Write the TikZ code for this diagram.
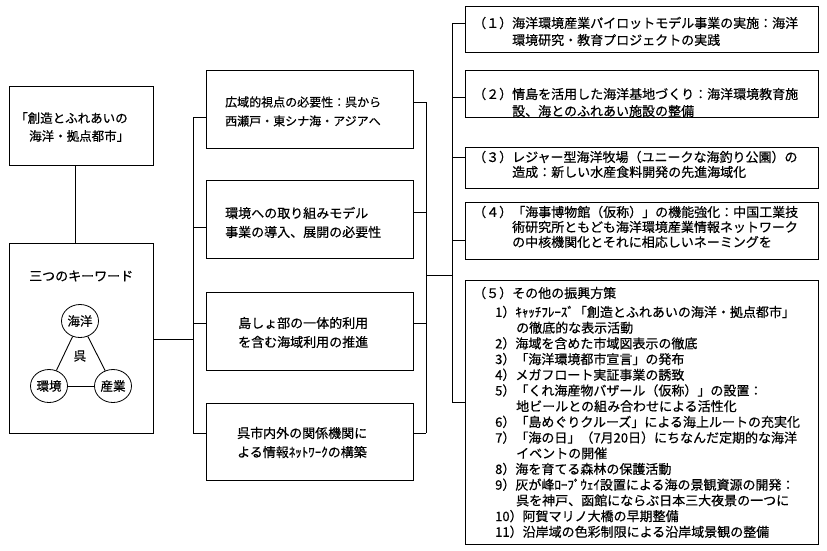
\documentclass[tikz,border=0pt]{standalone}
\usepackage{fontspec}
\setmainfont{Noto Sans CJK JP}[FakeBold=0.5]
\usetikzlibrary{shapes.geometric}
\newcommand\mylines[6][]{%
  \foreach \lineT [count=\i from 0] in {#6}{%
    \node[txt,#1] (#2\i) at ({#3},{#4+\i*#5}) {\lineT};}}
\begin{document}
\begin{tikzpicture}[x=1pt,y=-1pt,
  box/.style={draw, line width=0.9pt, rectangle, inner sep=0pt, anchor=north west},
  conn/.style={line width=0.9pt},
  kw/.style={draw, ellipse, line width=0.8pt, minimum width=37pt, minimum height=33pt, inner sep=0pt, font=\fontsize{12.5}{14}\selectfont},
  txt/.style={anchor=west, inner sep=0pt, font=\fontsize{13}{16}\selectfont},
  small/.style={font=\fontsize{12.5}{15}\selectfont},
  narrow/.style={font=\fontsize{12}{15}\selectfont}]
\fill[white] (0,0) rectangle (827,550);
\useasboundingbox (0,0) rectangle (827,550);

% left column
\node[box, minimum width=144pt, minimum height=79pt] (A) at (9,86) {};
\node[box, minimum width=144pt, minimum height=190pt] (B) at (9,243) {};
\node[txt, small] (a1) at (15,118) {「創造とふれあいの};
\node[txt, small] (a2) at (29,136) {海洋・拠点都市」};
\node[txt] (b1) at (29,276) {三つのキーワード};
\node[kw] (kai) at (80,321) {海洋};
\node[kw] (kan) at (49,386) {環境};
\node[kw] (san) at (113,386) {産業};
\node[inner sep=0pt, small] (kure) at (80,356) {呉};
\draw[conn] (kai) -- (kan);
\draw[conn] (kan) -- (san);
\draw[conn] (san) -- (kai);
\draw[conn] ([xshift=-6pt]A.south) -- ([xshift=-6pt]B.north);

% middle column
\node[box, minimum width=207pt, minimum height=78pt] (M1) at (206,70) {};
\node[box, minimum width=207pt, minimum height=78pt] (M2) at (206,180) {};
\node[box, minimum width=207pt, minimum height=78pt] (M3) at (206,292) {};
\node[box, minimum width=207pt, minimum height=77pt] (M4) at (206,403) {};
\mylines[narrow]{m1t}{225}{102}{19}{広域的視点の必要性：呉から,西瀬戸・東シナ海・アジアへ}
\mylines{m2t}{225}{213}{19}{環境への取り組みモデル,事業の導入、展開の必要性}
\mylines{m3t}{238}{323}{19}{島しょ部の一体的利用,を含む海域利用の推進}
\mylines{m4t}{237}{433}{19}{呉市内外の関係機関に,よる情報ﾈｯﾄﾜｰｸの構築}

% right column
\node[box, minimum width=353pt, minimum height=46pt] (R1) at (465,6) {};
\node[box, minimum width=353pt, minimum height=47pt] (R2) at (465,70) {};
\node[box, minimum width=353pt, minimum height=41pt] (R3) at (465,147) {};
\node[box, minimum width=353pt, minimum height=57pt] (R4) at (465,202) {};
\node[box, minimum width=353pt, minimum height=264pt] (R5) at (465,280) {};

\node[txt] (r1a) at (473,23) {（１）海洋環境産業パイロットモデル事業の実施：海洋};
\node[txt] (r1b) at (512,40) {環境研究・教育プロジェクトの実践};
\node[txt] (r2a) at (473,94) {（２）情島を活用した海洋基地づくり：海洋環境教育施};
\node[txt] (r2b) at (512,111) {設、海とのふれあい施設の整備};
\node[txt] (r3a) at (473,157) {（３）レジャー型海洋牧場（ユニークな海釣り公園）の};
\node[txt] (r3b) at (512,172) {造成：新しい水産食料開発の先進海域化};
\node[txt] (r4a) at (473,212) {（４）「海事博物館（仮称）」の機能強化：中国工業技};
\mylines{r4t}{512}{227}{15}{術研究所ともども海洋環境産業情報ネットワーク,の中核機関化とそれに相応しいネーミングを}

\node[txt] (r5h) at (473,293) {（５）その他の振興方策};
\node[txt] (s1) at (495,312) {1）ｷｬｯﾁﾌﾚｰｽﾞ「創造とふれあいの海洋・拠点都市」};
\node[txt] (s1b) at (516,327.7) {の徹底的な表示活動};
\node[txt] (s2) at (495,343.4) {2）海域を含めた市域図表示の徹底};
\node[txt] (s3) at (495,359.1) {3）「海洋環境都市宣言」の発布};
\node[txt] (s4) at (495,374.8) {4）メガフロート実証事業の誘致};
\node[txt] (s5) at (495,390.5) {5）「くれ海産物バザール（仮称）」の設置：};
\node[txt] (s5b) at (516,406.2) {地ビールとの組み合わせによる活性化};
\node[txt] (s6) at (495,421.9) {6）「島めぐりクルーズ」による海上ルートの充実化};
\node[txt] (s7) at (495,437.6) {7）「海の日」（7月20日）にちなんだ定期的な海洋};
\node[txt] (s7b) at (516,453.3) {イベントの開催};
\node[txt] (s8) at (495,469) {8）海を育てる森林の保護活動};
\node[txt] (s9) at (495,484.7) {9）灰が峰ﾛｰﾌﾟｳｪｲ設置による海の景観資源の開発：};
\node[txt] (s9b) at (516,500.4) {呉を神戸、函館にならぶ日本三大夜景の一つに};
\node[txt] (s10) at (495,516.1) {10）阿賀マリノ大橋の早期整備};
\node[txt] (s11) at (495,531.8) {11）沿岸域の色彩制限による沿岸域景観の整備};

% connectors: left bus
\coordinate (LB) at (193,339);
\coordinate (L1) at (193,117);
\coordinate (L2) at (193,227);
\coordinate (L3) at (193,323);
\coordinate (L4) at (193,433);
\draw[conn] (B.east |- LB) -- (LB);
\draw[conn] (L1) -- (L4);
\draw[conn] (L1) -- (M1.west |- L1);
\draw[conn] (L2) -- (M2.west |- L2);
\draw[conn] (L3) -- (M3.west |- L3);
\draw[conn] (L4) -- (M4.west |- L4);

% connectors: right bus
\coordinate (P1) at (426,102);
\coordinate (P2) at (426,212);
\coordinate (P3) at (426,323);
\coordinate (P4) at (426,433);
\coordinate (PH) at (426,275);
\draw[conn] (M1.east |- P1) -- (P1);
\draw[conn] (M2.east |- P2) -- (P2);
\draw[conn] (M3.east |- P3) -- (P3);
\draw[conn] (M4.east |- P4) -- (P4);
\draw[conn] (P1) -- (P4);

% connectors: R bus
\coordinate (Q1) at (452,23);
\coordinate (Q2) at (452,97);
\coordinate (Q3) at (452,157);
\coordinate (Q4) at (452,240);
\coordinate (Q5) at (452,402);
\draw[conn] (PH) -- (PH -| Q1);
\draw[conn] (Q1) -- (Q5);
\draw[conn] (Q1) -- (R1.west |- Q1);
\draw[conn] (Q2) -- (R2.west |- Q2);
\draw[conn] (Q3) -- (R3.west |- Q3);
\draw[conn] (Q4) -- (R4.west |- Q4);
\draw[conn] (Q5) -- (R5.west |- Q5);
\end{tikzpicture}
\end{document}
